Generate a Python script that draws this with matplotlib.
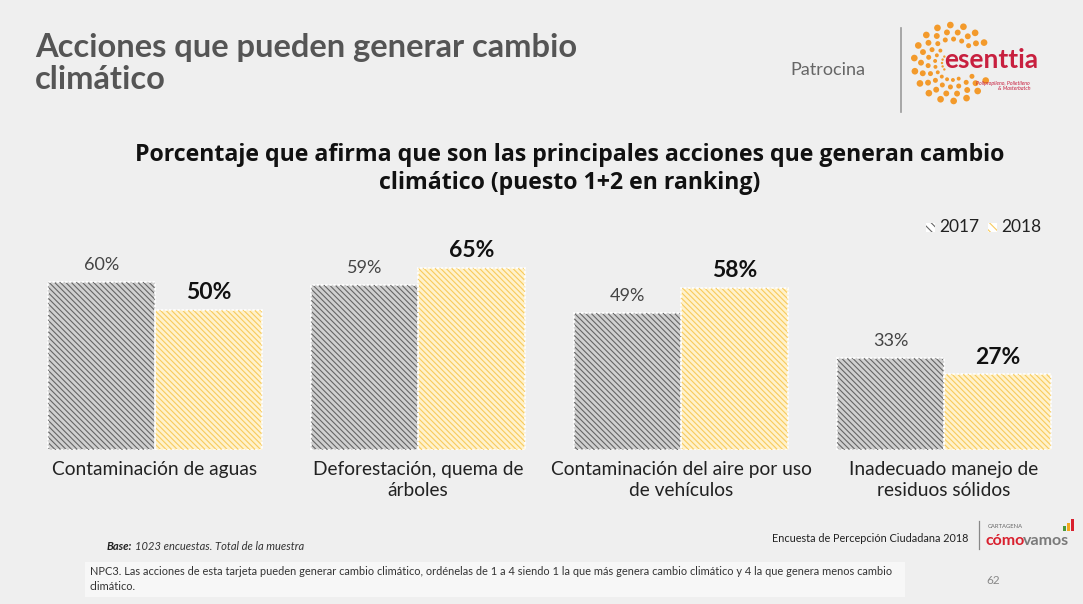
import numpy as np
import matplotlib
matplotlib.use("Agg")
import matplotlib.pyplot as plt
from matplotlib.patches import Rectangle
from matplotlib.lines import Line2D

# ---------------- data ----------------
categories = ["Contaminación de aguas",
              "Deforestación, quema de\nárboles",
              "Contaminación del aire por uso\nde vehículos",
              "Inadecuado manejo de\nresiduos sólidos"]
series_names = ["2017", "2018"]
values_2017 = [60, 59, 49, 33]
values_2018 = [50, 65, 58, 27]

# ---------------- style ----------------
W, H = 1083, 604
BG = "#efefef"
FACE17, HATCH17 = "#d0d0d0", "#666666"
FACE18, HATCH18 = "#fff2cc", "#f8cb5c"
FONT = "Lato"
HATCH = "\\" * 6
plt.rcParams["font.family"] = [FONT, "DejaVu Sans"]
plt.rcParams["hatch.linewidth"] = 0.8

fig = plt.figure(figsize=(W / 100, H / 100), dpi=100)
fig.patch.set_facecolor(BG)
renderer = fig.canvas.get_renderer()

def fx(x):
    return x / W

def fy(y):
    return 1 - y / H

def right_px(t):
    return t.get_window_extent(renderer=renderer).x1

# ---------------- axes / bars ----------------
ax = fig.add_axes([fx(23.5), fy(450), 1052 / W, 280 / H])
ax.set_xlim(-0.5, len(categories) - 0.5)
ax.set_ylim(0, 100)
ax.axis("off")
ax.patch.set_alpha(0)

x = np.arange(len(categories))
bw = 107 / 263
ax.bar(x - bw / 2, values_2017, bw, facecolor=FACE17, edgecolor=HATCH17,
       linewidth=0, hatch=HATCH)
ax.bar(x + bw / 2, values_2018, bw, facecolor=FACE18, edgecolor=HATCH18,
       linewidth=0, hatch=HATCH)
ax.bar(x - bw / 2, values_2017, bw, fill=False, edgecolor="white", linewidth=1.2,
       linestyle=(0, (1.5, 1)))
ax.bar(x + bw / 2, values_2018, bw, fill=False, edgecolor="white", linewidth=1.2,
       linestyle=(0, (1.5, 1)))

for xi, v in zip(x, values_2017):
    ax.annotate(f"{v}%", (xi - bw / 2, v), xytext=(0, 12), textcoords="offset points",
                ha="center", va="center", fontsize=13, color="#444444")
for xi, v in zip(x, values_2018):
    ax.annotate(f"{v}%", (xi + bw / 2, v), xytext=(0, 12.5), textcoords="offset points",
                ha="center", va="center", fontsize=16.5, fontweight="bold", color="#111111")

for xi, c in zip(x, categories):
    ax.annotate(c, (xi, 0), xytext=(0, -8), textcoords="offset points",
                ha="center", va="top", fontsize=13.8, color="#222222",
                linespacing=1.27, multialignment="center")

# ---------------- titles ----------------
fig.text(fx(35), fy(33), "Acciones que pueden generar cambio\nclimático", ha="left", va="top",
         fontsize=23.5, fontweight="bold", color="#555555", linespacing=1.12)
fig.text(fx(570), fy(143),
         "Porcentaje que afirma que son las principales acciones que generan cambio\n"
         "climático (puesto 1+2 en ranking)",
         ha="center", va="top", fontsize=16.7, fontweight="bold", color="#111111",
         linespacing=1.22, multialignment="center", family=["Open Sans", "DejaVu Sans"])

# ---------------- legend ----------------
for (lx, face, hc, name) in [(926, FACE17, HATCH17, series_names[0]),
                             (988, FACE18, HATCH18, series_names[1])]:
    fig.patches.append(Rectangle((fx(lx), fy(232)), 9 / W, 9 / H, transform=fig.transFigure,
                                 facecolor="white", edgecolor=hc, linewidth=0,
                                 hatch="\\\\\\\\"))
    fig.text(fx(lx + 13), fy(227), name, ha="left", va="center", fontsize=12.5,
             color="#222222")

# ---------------- header right ----------------
fig.text(fx(790), fy(70), "Patrocina", ha="left", va="center", fontsize=13, color="#666666")
fig.add_artist(Line2D([fx(901), fx(901)], [fy(28), fy(112)], color="#9a9a9a", lw=1.2))

# sunburst logo (decoration)
cx, cy = 952, 63
pts_x, pts_y, sizes = [], [], []
n_arms = 18
for k in range(n_arms):
    for j, r in enumerate([10, 17, 24, 31, 38]):
        ang = 2 * np.pi * k / n_arms + 0.12 * j
        px = cx + r * np.cos(ang)
        py = cy + r * np.sin(ang)
        if px > 945 and 46 < py < 76:
            continue
        pts_x.append(fx(px))
        pts_y.append(fy(py))
        sizes.append(3 + 5 * j)
sc_ax = fig.add_axes([0, 0, 1, 1], zorder=-1)
sc_ax.set_xlim(0, 1)
sc_ax.set_ylim(0, 1)
sc_ax.axis("off")
sc_ax.patch.set_alpha(0)
sc_ax.scatter(pts_x, pts_y, s=sizes, color="#f39a2b", linewidths=0)
fig.text(fx(944), fy(60), "esenttia", ha="left", va="center", fontsize=19,
         fontweight="bold", color="#c8203f")
fig.text(fx(1030), fy(86), "Polipropileno, Polietileno\n& Masterbatch", ha="right",
         va="center", fontsize=3.8, fontstyle="italic", color="#c8203f",
         multialignment="right")

# ---------------- footer ----------------
tb = fig.text(fx(107), fy(547), "Base:", ha="left", va="center", fontsize=8,
              fontweight="bold", fontstyle="italic", color="#222222")
fig.text(fx(right_px(tb) + 3), fy(547), "1023 encuestas. Total de la muestra", ha="left",
         va="center", fontsize=8, fontstyle="italic", color="#333333")
fig.text(fx(968), fy(539), "Encuesta de Percepción Ciudadana 2018", ha="right", va="center",
         fontsize=7.8, color="#222222")
fig.add_artist(Line2D([fx(979), fx(979)], [fy(521), fy(549)], color="#888888", lw=0.9))
fig.text(fx(988), fy(527), "CARTAGENA", ha="left", va="center", fontsize=4.2, color="#666666")
t1 = fig.text(fx(986), fy(541), "cómo", ha="left", va="center", fontsize=11.5,
              fontweight="bold", color="#d9202e")
fig.text(fx(right_px(t1) - 2), fy(541), "vamos", ha="left", va="center", fontsize=11.5,
         fontweight="bold", color="#7a7a7a")
for bx, bh, bc in [(1063, 5, "#4a9a3a"), (1067, 8, "#f2a81d"), (1071, 12, "#d9202e")]:
    fig.patches.append(Rectangle((fx(bx), fy(531)), 3 / W, bh / H, transform=fig.transFigure,
                                 facecolor=bc, edgecolor="none"))

fig.patches.append(Rectangle((fx(85), fy(597)), 820 / W, 35 / H, transform=fig.transFigure,
                             facecolor="#f8f8f8", edgecolor="none", alpha=0.9))
fig.text(fx(90), fy(579),
         "NPC3. Las acciones de esta tarjeta pueden generar cambio climático, ordénelas de 1 a 4 "
         "siendo 1 la que más genera cambio climático y 4 la que genera menos cambio\nclimático.",
         ha="left", va="center", fontsize=7.9, color="#333333", linespacing=1.35)
fig.text(fx(993), fy(581), "62", ha="center", va="center", fontsize=8.5, color="#888888")

fig.savefig("out.png", dpi=100, facecolor=BG)
